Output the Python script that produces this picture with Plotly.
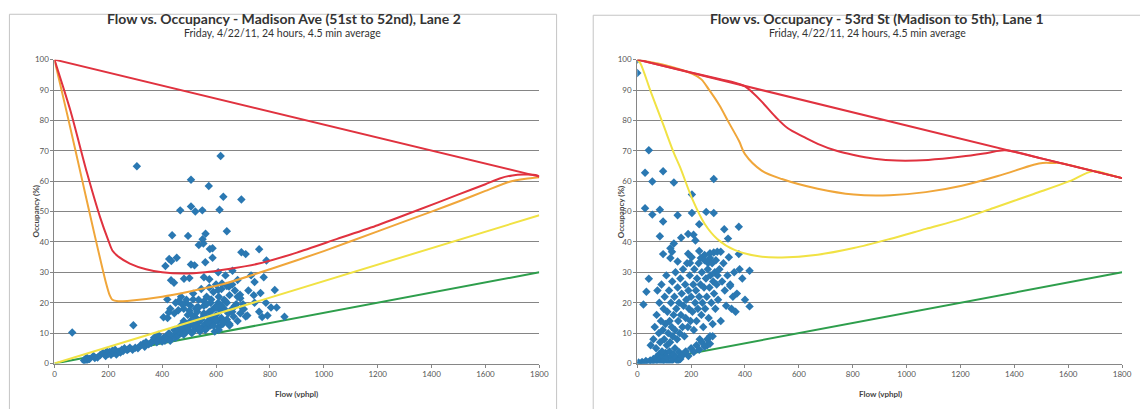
import plotly.graph_objects as go

# ---------------- Madison Ave (51st to 52nd), Lane 2 ----------------
mad_flow = [66, 293, 306, 617, 507, 573, 627, 694, 467, 507, 523, 549, 613, 640, 437, 496, 561,
            536, 550, 553, 577, 587, 694, 710, 760, 787, 426, 434, 454, 412, 507, 520, 560, 587,
            433, 444, 481, 501, 555, 575, 608, 635, 661, 622, 648, 608, 689, 730, 743, 777, 818,
            785, 765, 419, 461, 488, 515, 535, 501, 474, 555, 582, 608, 635, 595, 675, 703, 743,
            771, 716, 825, 854, 804, 791, 405, 424,
            110, 115, 120, 130, 145, 150, 160, 170, 180, 190, 195, 200, 205, 210, 215, 220, 225,
            230, 240, 245, 250, 255, 260, 270, 275, 280, 290, 300, 310, 320, 330, 335, 340, 350,
            360, 365, 370, 380, 385, 390, 400, 405, 410, 415, 420, 425, 430, 440, 445, 450, 455,
            460, 465, 470, 475, 480, 485, 490, 495, 500, 505, 510, 515, 520, 525, 530, 535, 540,
            545, 550, 555, 560, 565, 570, 575, 580, 585, 590, 595, 600, 605, 610, 615, 620, 625,
            630, 640, 645, 650, 660, 665, 670, 680, 690, 700, 710,
            420, 430, 445, 450, 460, 470, 480, 490, 495, 505, 515, 525, 535, 545, 555, 565, 575,
            580, 590, 600, 610, 620, 630, 640, 650, 660, 670, 680, 690,
            480, 500, 520, 540, 560, 520, 545, 570, 590, 610, 530, 555, 575, 600, 625, 650, 470,
            510, 530, 565, 585, 600, 620, 640, 660, 680, 700, 720, 740, 760]
mad_occ = [10.2, 12.6, 64.9, 68.3, 60.5, 58.4, 54.9, 54.0, 50.4, 51.7, 50.0, 50.4, 50.6, 43.5, 42.2,
           42.0, 42.7, 39.0, 40.9, 39.5, 37.7, 37.9, 36.6, 36.0, 37.6, 33.9, 34.4, 33.7, 34.8, 32.1,
           32.6, 32.3, 33.3, 34.8, 27.4, 26.6, 27.9, 28.1, 28.4, 27.7, 30.0, 29.0, 30.5, 26.3, 25.3,
           24.2, 22.6, 29.0, 26.8, 28.4, 24.2, 20.0, 23.2, 21.1, 20.5, 20.0, 21.1, 18.4, 17.4, 19.5,
           20.5, 21.1, 20.0, 20.5, 18.4, 19.5, 17.9, 20.0, 15.3, 15.8, 18.4, 15.4, 18.4, 15.8, 15.2,
           16.8,
           1.0, 0.5, 2.0, 1.5, 2.5, 1.8, 2.0, 2.8, 3.5, 2.5, 4.0, 3.2, 3.8, 2.9, 4.2, 3.5, 4.5,
           3.0, 4.0, 3.6, 4.5, 4.1, 5.0, 4.4, 4.8, 5.2, 4.5, 5.2, 5.0, 6.0, 6.5, 5.5, 7.0, 6.3,
           6.8, 7.5, 8.5, 7.0, 9.5, 8.0, 7.2, 8.5, 7.5, 9.0, 8.2, 10.0, 7.5, 9.0, 11.0, 8.5, 10.5,
           9.2, 12.0, 10.0, 11.5, 9.5, 13.0, 10.5, 12.0, 11.0, 14.0, 10.0, 12.5, 11.0, 15.0, 12.0,
           13.5, 10.5, 14.5, 12.0, 16.0, 13.0, 11.5, 14.0, 17.0, 12.5, 15.0, 13.5, 10.5, 16.0, 14.0,
           12.0, 17.5, 15.0, 13.0, 18.0, 14.5, 16.5, 12.5, 17.0, 15.5, 19.0, 14.0, 16.5, 18.0, 15.5,
           15.0, 18.0, 16.5, 20.0, 17.5, 22.0, 18.0, 21.0, 16.0, 19.0, 23.0, 18.0, 21.0, 24.5, 19.0,
           22.0, 25.0, 20.0, 23.5, 26.0, 22.0, 24.5, 21.0, 25.5, 22.5, 26.0, 24.0, 27.5, 21.5,
           14.0, 13.0, 12.5, 11.5, 11.0, 15.5, 14.5, 13.5, 12.5, 11.0, 17.0, 16.5, 15.5, 14.5, 13.5,
           13.0, 12.5, 16.0, 18.5, 19.5, 17.5, 18.5, 19.0, 20.0, 18.0, 22.0, 19.5, 24.0, 22.5, 17.0]

mad_top_flow = [0, 1800]
mad_top_occ = [100, 61.5]
mad_red_flow = [0, 60, 120, 170, 200, 215, 240, 280, 340, 400, 480, 560, 640, 755, 900, 1050,
                1200, 1350, 1496, 1600, 1653, 1700, 1740, 1790, 1800]
mad_red_occ = [100, 83, 63, 48, 40.5, 37.2, 35, 32.9, 31, 30, 29.6, 30, 31, 32.8, 36.5, 41,
               45.5, 50.5, 55.5, 59, 60.9, 61.9, 62.2, 62, 61.5]
mad_orange_flow = [0, 50, 100, 150, 190, 205, 215, 237, 270, 400, 616, 800, 1000, 1200, 1400,
                   1500, 1600, 1690, 1750, 1800]
mad_orange_occ = [100, 81, 61.5, 42, 27, 22.5, 21, 20.5, 20.6, 22, 25.9, 31, 37, 43.5, 50,
                  53.3, 56.8, 59.8, 60.8, 61.3]
mad_yellow_flow = [0, 1800]
mad_yellow_occ = [0, 48.8]
mad_green_flow = [0, 1800]
mad_green_occ = [0, 30]

# ---------------- 53rd St (Madison to 5th), Lane 1 ----------------
st53_flow = [0, 0, 43, 29, 56, 96, 136, 284, 29, 56, 84, 96, 150, 203, 203, 256, 284, 230, 84,
             163, 189, 209, 216, 323, 337, 377, 96, 123, 136, 129, 123, 150, 189, 196, 230, 236,
             250, 263, 270, 284, 297, 310, 270, 377,
             5, 12, 18, 25, 32, 40, 48, 55, 60, 65, 70, 75, 80, 85, 90, 95, 100, 105, 110, 115,
             120, 125, 130, 135, 140, 145, 150, 155, 160, 165,
             23, 43, 34, 50, 60, 65, 70, 72, 75, 80, 82, 85, 88, 90, 92, 95, 98, 100, 102, 105,
             108, 110, 112, 115, 118, 120, 122, 125, 128, 130, 132, 135, 138, 140, 142, 145, 148,
             150, 152, 155, 158, 160, 162, 165, 168, 170, 172, 175, 178, 180, 182, 185, 188, 190,
             192, 195, 198, 200, 202, 205, 208, 210, 212, 215, 218, 220, 222, 225, 228, 230, 232,
             235, 238, 240, 242, 245, 248, 250, 252, 255, 258, 260, 262, 265, 268, 270, 272, 275,
             278, 280, 282, 285, 288, 290, 292, 295, 298, 300, 305, 310, 315, 320, 325, 330, 335,
             340, 345, 350, 355, 360, 370, 380, 390, 417, 417, 400, 365, 345,
             170, 180, 190, 200, 210, 220, 230, 240, 250, 260, 270, 280]
st53_occ = [100, 95.6, 70.2, 62.8, 59.9, 63.3, 59.6, 60.7, 51.1, 49.0, 50.6, 46.7, 48.8, 55.6, 49.5,
            49.9, 49.5, 45.8, 41.9, 41.4, 42.6, 42.4, 40.5, 44.2, 41.1, 45.0, 36.0, 37.9, 39.5, 36.8,
            34.7, 33.6, 36.1, 33.1, 37.0, 34.7, 35.7, 33.1, 36.3, 36.5, 36.8, 36.8, 34.7, 36.0,
            0.3, 0.0, 0.5, 0.2, 0.8, 0.4, 1.0, 0.6, 1.5, 0.5, 2.0, 1.0, 3.0, 1.5, 0.5, 2.5, 1.0, 3.5,
            2.0, 0.5, 4.0, 2.5, 1.0, 3.0, 5.0, 2.0, 0.8, 3.8, 1.5, 2.5,
            19.4, 27.9, 23.6, 6, 8, 12, 5, 16, 24, 10, 20, 7, 14, 26, 4, 11, 18, 8, 22, 13, 29, 6,
            17, 10, 24, 14, 7, 20, 12, 27, 9, 16, 22, 11, 30, 18, 8, 25, 14, 20, 10, 28, 16, 23,
            12, 31, 19, 9, 26, 15, 21, 33, 12, 24, 18, 29, 14, 22, 35, 17, 26, 11, 31, 20, 24, 14,
            28, 18, 33, 22, 8, 26, 16, 30, 20, 12, 25, 34, 18, 28, 22, 6, 31, 15, 25, 9, 29, 20,
            33, 13, 27, 23, 30, 18, 34, 26, 29, 21, 31, 14, 27, 33, 24, 19, 29, 35, 26, 18, 22, 30,
            23, 31, 28, 30.5, 18.8, 21, 17, 25.5,
            3, 4, 2.5, 5, 3.8, 6, 4.5, 7, 5.5, 8, 6.5, 9]

st53_top_flow = [0, 1800]
st53_top_occ = [100, 61]
st53_red_flow = [0, 100, 200, 300, 350, 400, 430, 464, 513, 559, 620, 670, 740, 804, 880, 964,
                 1080, 1205, 1300, 1365, 1500, 1650, 1800]
st53_red_occ = [100, 97.9, 95.8, 93.7, 92.7, 91.2, 89, 86, 81.2, 77.4, 74.5, 72.3, 70, 68.6,
                67.4, 66.8, 67, 68.1, 69.3, 70.2, 67.5, 64.3, 61]
st53_orange_flow = [0, 97, 205, 238, 265, 305, 338, 378, 400, 462, 537, 670, 804, 938, 1071,
                    1205, 1339, 1472, 1505, 1545, 1567, 1700, 1800]
st53_orange_occ = [100, 98.3, 95.3, 93.5, 90.3, 85, 79.6, 73.2, 68.9, 63.5, 60.7, 57.5, 55.6,
                   55.4, 56.4, 58.5, 61.7, 65.4, 66, 66, 66, 63.2, 61]
st53_yellow_flow = [0, 11, 50, 97, 135, 159, 205, 250, 297, 363, 457, 537, 670, 804, 938, 1071,
                    1205, 1323, 1472, 1605, 1690, 1750, 1800]
st53_yellow_occ = [100, 98.9, 89.5, 78.5, 69.5, 64.6, 54, 46, 41, 37.3, 35.2, 34.9, 35.8, 38, 41,
                   44.3, 47.6, 51.2, 55.8, 60, 63.3, 62.2, 61]
st53_green_flow = [0, 1800]
st53_green_occ = [0, 30]

x_ticks = [0, 200, 400, 600, 800, 1000, 1200, 1400, 1600, 1800]
y_ticks = [0, 10, 20, 30, 40, 50, 60, 70, 80, 90, 100]

titles = ["Flow vs. Occupancy - Madison Ave (51st to 52nd), Lane 2",
          "Flow vs. Occupancy - 53rd St (Madison to 5th), Lane 1"]
subtitle = "Friday, 4/22/11, 24 hours, 4.5 min average"

RED = "#E0323F"
ORANGE = "#F0A63A"
YELLOW = "#F1E244"
GREEN = "#2E9E4C"
BLUE = "#2A78B2"

W, H = 1140, 409
fig = go.Figure()


def add_chart(xa, ya, pts_f, pts_o, curves, smooth):
    green, yellow, orange, red, top = curves

    def line(f, o, color, shape="linear"):
        fig.add_trace(go.Scatter(x=f, y=o, mode="lines", xaxis=xa, yaxis=ya,
                                 line=dict(color=color, width=2, shape=shape,
                                           smoothing=smooth if shape == "spline" else None),
                                 hoverinfo="skip", showlegend=False))

    line(*green, GREEN)
    fig.add_trace(go.Scatter(x=pts_f, y=pts_o, mode="markers", xaxis=xa, yaxis=ya,
                             marker=dict(symbol="diamond", size=6.5, color=BLUE,
                                         line=dict(width=0)),
                             showlegend=False))
    line(*yellow, YELLOW, "spline" if len(yellow[0]) > 2 else "linear")
    line(*orange, ORANGE, "spline")
    line(*red, RED, "spline")
    line(*top, RED)


add_chart("x", "y", mad_flow, mad_occ,
          [(mad_green_flow, mad_green_occ), (mad_yellow_flow, mad_yellow_occ),
           (mad_orange_flow, mad_orange_occ), (mad_red_flow, mad_red_occ),
           (mad_top_flow, mad_top_occ)], 0.6)
add_chart("x2", "y2", st53_flow, st53_occ,
          [(st53_green_flow, st53_green_occ), (st53_yellow_flow, st53_yellow_occ),
           (st53_orange_flow, st53_orange_occ), (st53_red_flow, st53_red_occ),
           (st53_top_flow, st53_top_occ)], 0.9)

TICKFONT = dict(family="Lato, Liberation Sans, sans-serif", size=8, color="#555555")
xcommon = dict(range=[0, 1800], tickvals=x_ticks, showgrid=False, zeroline=False,
               showline=True, linecolor="#868686", linewidth=1, ticks="outside",
               ticklen=3, tickcolor="#868686", tickfont=TICKFONT, fixedrange=True)
ycommon = dict(range=[0, 100], tickvals=y_ticks, showgrid=True, gridcolor="#858585",
               gridwidth=1, zeroline=False, showline=True, linecolor="#868686", linewidth=1,
               ticks="outside", ticklen=3, tickcolor="#868686", tickfont=TICKFONT,
               fixedrange=True)


def px_x(v):
    return v / W


def px_y(v):
    return 1 - v / H


fig.update_layout(
    width=W, height=H, margin=dict(l=0, r=0, t=0, b=0),
    paper_bgcolor="white", plot_bgcolor="white", showlegend=False,
    xaxis=dict(domain=[px_x(53), px_x(543)], anchor="y", **xcommon),
    yaxis=dict(domain=[px_y(367.5), px_y(56)], anchor="x", **ycommon),
    xaxis2=dict(domain=[px_x(642), px_x(1132)], anchor="y2", **xcommon),
    yaxis2=dict(domain=[px_y(367.5), px_y(56)], anchor="x2", **ycommon),
)

# chart-area frames
fig.add_shape(type="rect", xref="paper", yref="paper", x0=px_x(7.5), x1=px_x(560.5),
              y0=-0.02, y1=px_y(9.5), line=dict(color="#c4c4c4", width=1), layer="below")
fig.add_shape(type="rect", xref="paper", yref="paper", x0=px_x(597.5), x1=1.02,
              y0=-0.02, y1=px_y(10.5), line=dict(color="#c4c4c4", width=1), layer="below")

TFONT = "Lato, Liberation Sans, sans-serif"
for cx, t in zip([285, 884], titles):
    fig.add_annotation(x=px_x(cx), y=px_y(14), xref="paper", yref="paper", text="<b>%s</b>" % t,
                       showarrow=False, xanchor="center", yanchor="middle",
                       font=dict(family=TFONT, size=14, color="#333333"))
for cx in [283, 875]:
    fig.add_annotation(x=px_x(cx), y=px_y(29), xref="paper", yref="paper", text=subtitle,
                       showarrow=False, xanchor="center", yanchor="middle",
                       font=dict(family=TFONT, size=10.5, color="#333333"))
for cx in [298, 888]:
    fig.add_annotation(x=px_x(cx), y=px_y(399), xref="paper", yref="paper",
                       text="<b>Flow (vphpl)</b>", showarrow=False, xanchor="center",
                       yanchor="middle", font=dict(family=TFONT, size=8, color="#444444"))
for cx in [34, 625]:
    fig.add_annotation(x=px_x(cx), y=px_y(212), xref="paper", yref="paper",
                       text="<b>Occupancy (%)</b>", showarrow=False, textangle=-90,
                       xanchor="center", yanchor="middle",
                       font=dict(family=TFONT, size=8, color="#444444"))

fig.write_html("out.html")
